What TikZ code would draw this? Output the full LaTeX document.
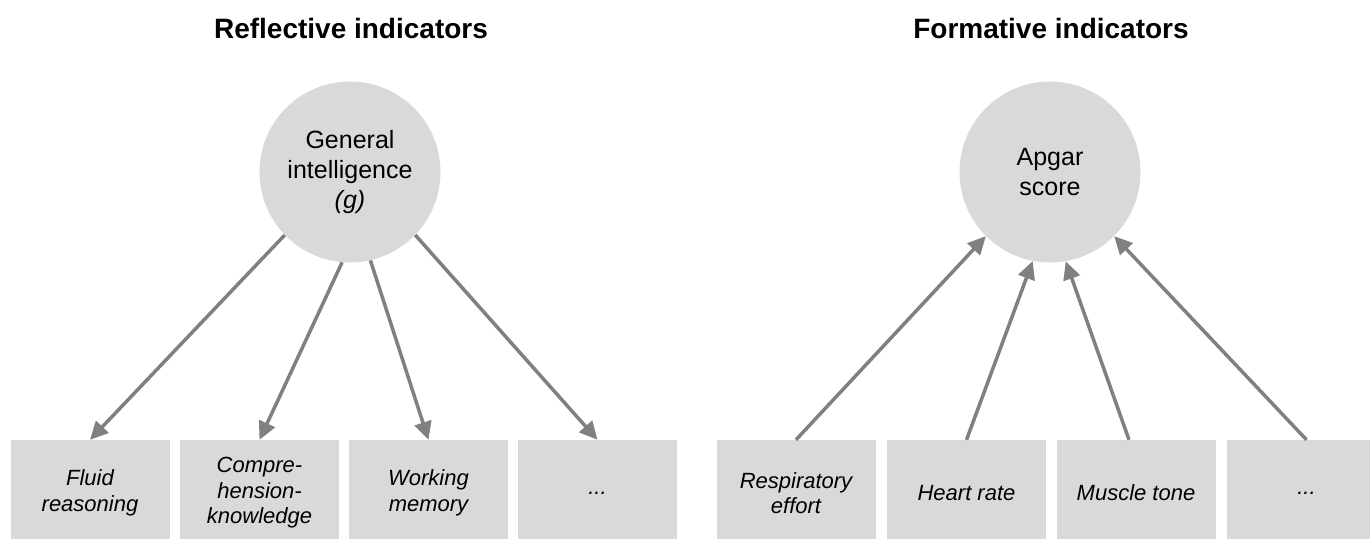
\documentclass[tikz,border=0pt]{standalone}
\usepackage{fontspec}
\setmainfont{Liberation Sans}
\usetikzlibrary{arrows.meta}

\definecolor{latentgray}{RGB}{217,217,217}
\definecolor{pathgray}{RGB}{128,128,128}

\tikzset{
  latent/.style={circle, fill=latentgray, minimum size=181pt, inner sep=0pt,
    align=center, font=\fontsize{25}{30}\selectfont},
  indicator/.style={rectangle, fill=latentgray, minimum width=159pt, minimum height=106pt,
    inner sep=0pt, align=center, font=\fontsize{22}{25.5}\selectfont\itshape},
  heading/.style={font=\fontsize{28}{32}\selectfont\bfseries},
  loading/.style={draw=pathgray, line width=3.5pt, -{Triangle[length=18pt,width=17pt]}}
}

\begin{document}
\begin{tikzpicture}[x=1pt, y=-1pt]
\clip (0,0) rectangle (1370,538);
% reflective side
\node[heading] (refl) at (351,28) {Reflective indicators};
\node[latent] (g) at (350,172) {General\\intelligence\\\textit{(g)}};
\node[indicator] (fl) at (90,493) {Fluid\\reasoning};
\node[indicator] (ck) at (259.5,493) {Compre-\\hension-\\knowledge};
\node[indicator] (wm) at (428.5,493) {Working\\memory};
\node[indicator] (rd) at (597.5,493) {...};
\draw[loading] (g.224) -- (fl.north);
\draw[loading] (g.265) -- (ck.north);
\draw[loading] (g.283) -- (wm.north);
\draw[loading] (g.316) -- (rd.north);
% formative side
\node[heading] (form) at (1051,28) {Formative indicators};
\node[latent] (ap) at (1050,172) {Apgar\\score};
\node[indicator] (re) at (796,493) {Respiratory\\effort};
\node[indicator] (hrt) at (966.5,493) {Heart rate};
\node[indicator] (mt) at (1136,493) {Muscle tone};
\node[indicator] (fd) at (1306.5,493) {...};
\draw[loading] (re.north) -- (ap.225);
\draw[loading] (hrt.north) -- (ap.259);
\draw[loading] ([xshift=-7pt]mt.north) -- (ap.280);
\draw[loading] (fd.north) -- (ap.315);
\end{tikzpicture}
\end{document}
